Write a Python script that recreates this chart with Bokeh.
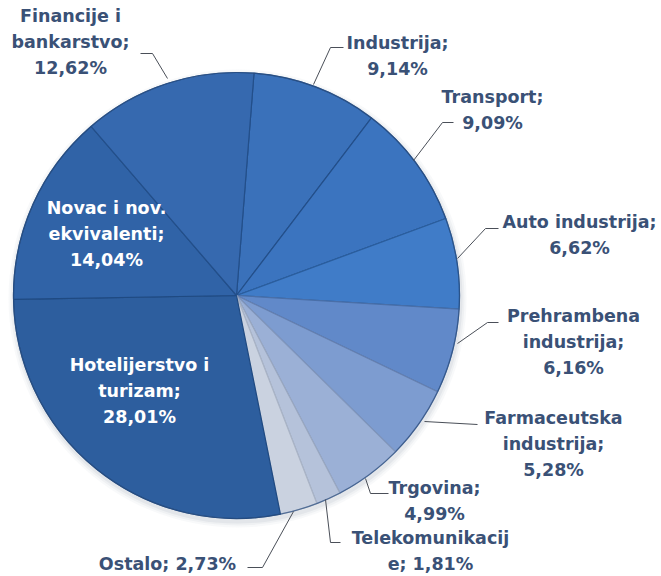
import math
from bokeh.plotting import figure
from bokeh.models import Range1d, ColumnDataSource
from bokeh.core.properties import value
from bokeh.embed import file_html
from bokeh.resources import INLINE

# ---- data ----
categories = ["Industrija", "Transport", "Auto industrija", "Prehrambena industrija",
              "Farmaceutska industrija", "Trgovina", "Telekomunikacije", "Ostalo",
              "Hotelijerstvo i turizam", "Novac i nov. ekvivalenti", "Financije i bankarstvo"]
shares = [9.14, 9.09, 6.62, 6.16, 5.28, 4.99, 1.81, 2.73, 28.01, 14.04, 12.62]
label_texts = ["Industrija;\n9,14%", "Transport;\n9,09%", "Auto industrija;\n6,62%",
               "Prehrambena\nindustrija;\n6,16%", "Farmaceutska\nindustrija;\n5,28%",
               "Trgovina;\n4,99%", "Telekomunikacij\ne; 1,81%", "Ostalo; 2,73%",
               "Hotelijerstvo i\nturizam;\n28,01%", "Novac i nov.\nekvivalenti;\n14,04%",
               "Financije i\nbankarstvo;\n12,62%"]

# ---- styling / layout ----
colors = ["#3a71ba", "#3b74bf", "#407cc8", "#6189c9", "#7d9cd0", "#9bb0d6",
          "#b5c2da", "#cad2e0", "#2d5e9e", "#3063a7", "#3669af"]
edge_colors = ["#234f8a", "#234f8a", "#2a5e9e", "#4a6fa8", "#6680b0", "#8196bb",
               "#9aa8c0", "#aab4c6", "#1f4a82", "#1f4a82", "#234f8a"]
W, H = 661, 576
def px(X, Y):
    return X, H - Y

cx, cy = px(236, 295)
R = 223
offset = math.radians(4.5)
total = sum(shares)

p = figure(width=W, height=H, output_backend="svg", toolbar_location=None,
           x_range=Range1d(0, W), y_range=Range1d(0, H), min_border=0)
p.axis.visible = False
p.grid.visible = False
p.outline_line_color = None
p.background_fill_color = "white"

# soft shadow
for dr, a in [(6, 0.05), (4, 0.07), (2, 0.10)]:
    p.circle(x=[cx + 1], y=[cy - 3], radius=R + dr, fill_color="#7f8aa0",
             fill_alpha=a, line_color=None)

starts, ends = [], []
cum = 0.0
for v in shares:
    s = math.pi / 2 - offset - 2 * math.pi * cum / total
    cum += v
    e = math.pi / 2 - offset - 2 * math.pi * cum / total
    starts.append(s)
    ends.append(e)

src = ColumnDataSource(dict(cat=categories, val=shares, start=starts, end=ends,
                            color=colors, edge=edge_colors))
p.wedge(x=cx, y=cy, radius=R, start_angle="start", end_angle="end",
        direction="clock", fill_color="color", line_color="edge", line_width=1.2,
        source=src)
# rim
p.circle(x=[cx], y=[cy], radius=R, fill_color=None, line_color="#2b4f80",
         line_width=1.2, line_alpha=0.7)

# labels (screen pixel anchor positions)
label_pos = [(397, 55), (492, 109), (579, 234), (573, 341), (553, 443),
             (434, 500), (430, 550), (167, 563), (139, 390), (106, 233), (70, 41)]
label_color = ["#3a5176"] * 8 + ["white", "white"] + ["#3a5176"]
lx = [px(X, Y)[0] for X, Y in label_pos]
ly = [px(X, Y)[1] for X, Y in label_pos]
p.text(x=lx, y=ly, text=label_texts, text_color=label_color,
       text_font=value("DejaVu Sans"), text_font_style="bold",
       text_font_size="17.5px", text_align="center", text_baseline="middle",
       text_line_height=1.3)

# leader lines (screen pixels)
leaders = [
    [(343, 47), (330, 47), (313, 84)],
    [(453, 122), (442, 122), (413, 160)],
    [(498, 228), (485, 228), (457, 258)],
    [(498, 322), (487, 322), (457, 343)],
    [(477, 424), (424, 421)],
    [(388, 493), (370, 493), (365, 478)],
    [(340, 542), (330, 542), (325, 499)],
    [(247, 567), (262, 567), (293, 511)],
    [(140, 53), (152, 53), (167, 78)],
]
xs = [[px(X, Y)[0] for X, Y in l] for l in leaders]
ys = [[px(X, Y)[1] for X, Y in l] for l in leaders]
p.multi_line(xs=xs, ys=ys, line_color="#4a4f58", line_width=1)

open("out.html", "w").write(file_html(p, INLINE))
